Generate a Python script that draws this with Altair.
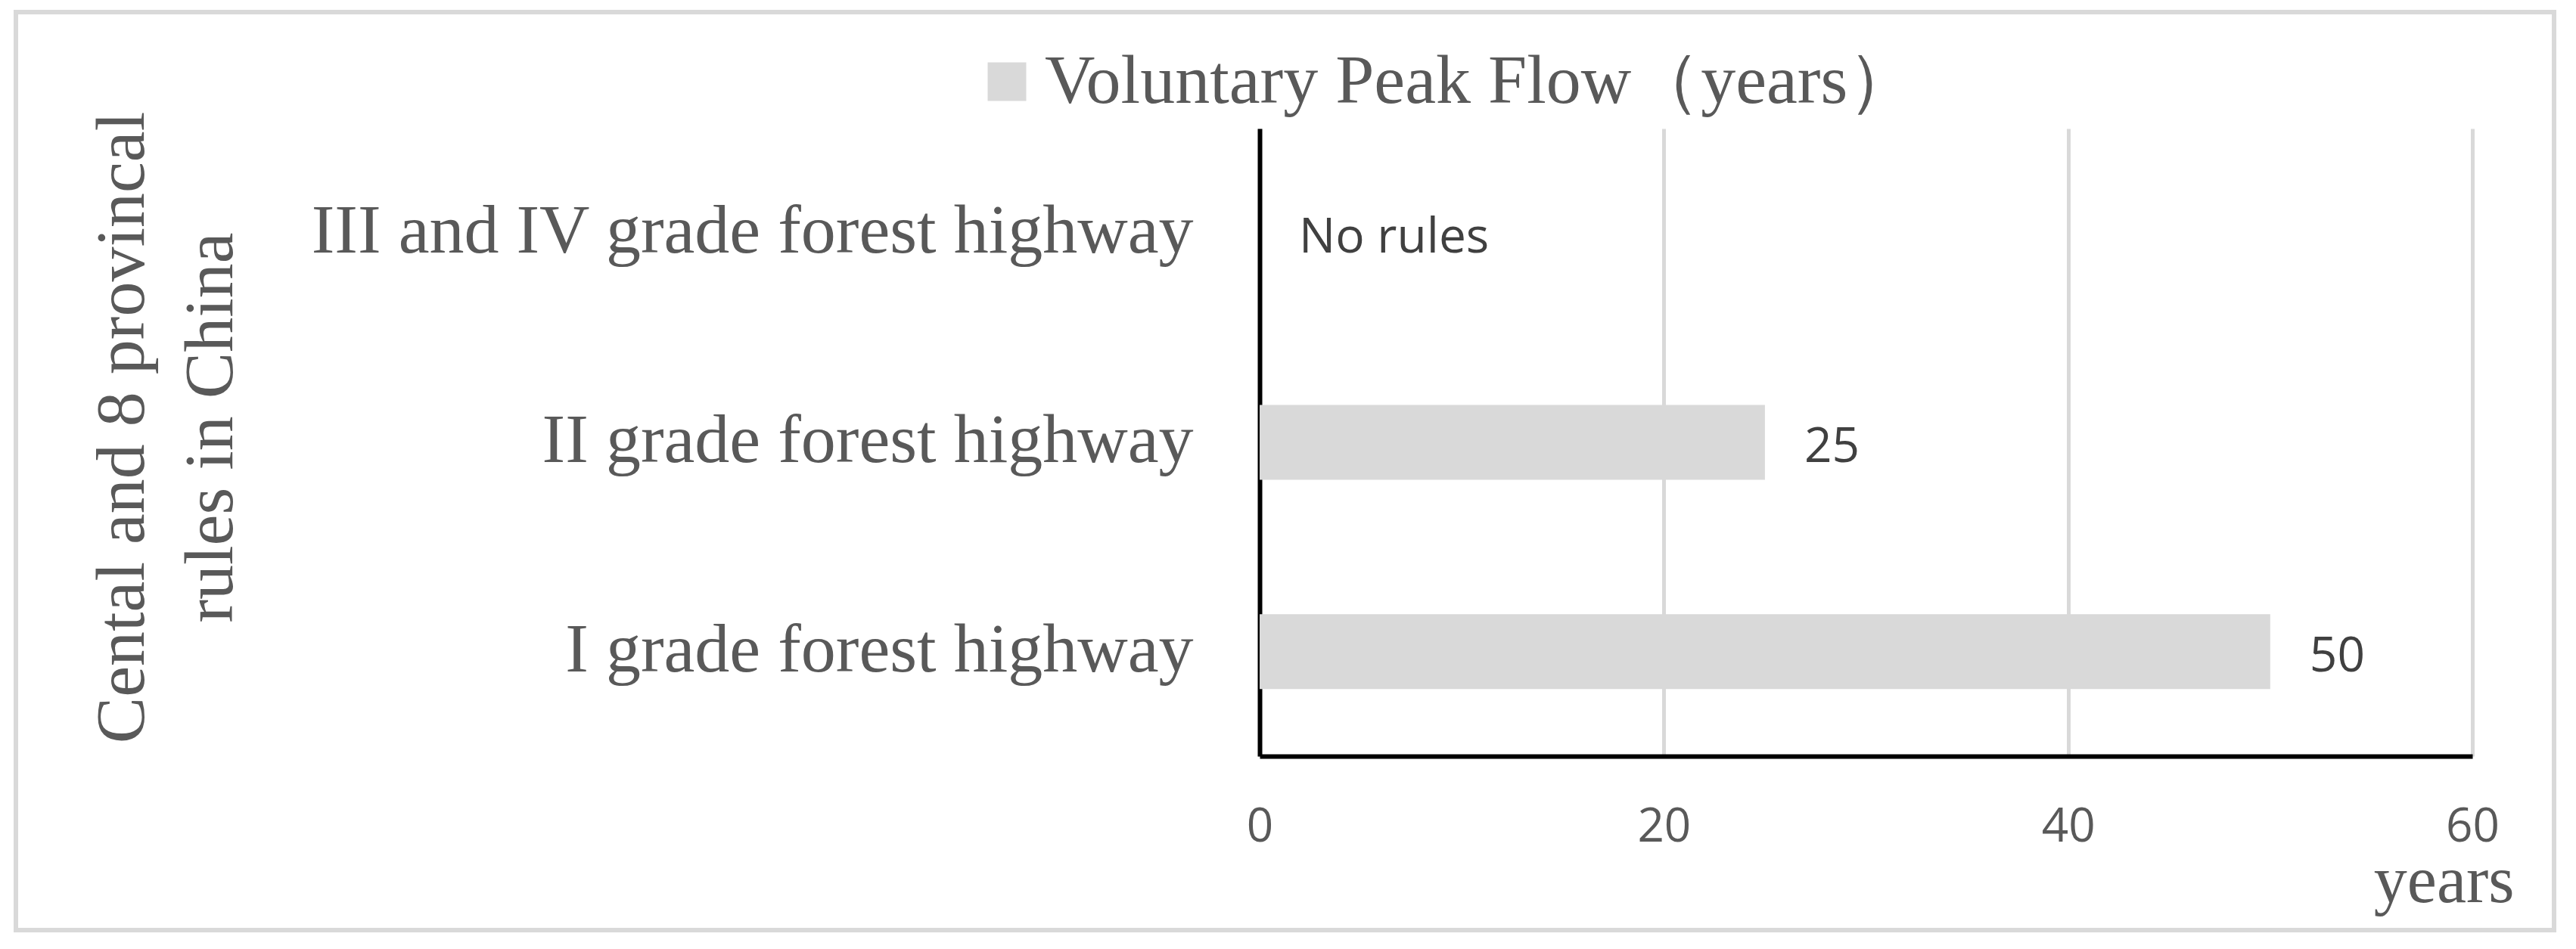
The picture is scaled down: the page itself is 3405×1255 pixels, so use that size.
import altair as alt
import pandas as pd

categories = ["III and IV grade forest highway", "II grade forest highway", "I grade forest highway"]
values = [None, 25, 50]
value_labels = ["No rules", "25", "50"]
series_name = "Voluntary Peak Flow（years）"
x_ticks = [0, 20, 40, 60]
y_title = ["Cental and 8 provincal", "rules in China"]
x_title = "years"

df = pd.DataFrame({"category": categories, "value": values,
                   "label": value_labels, "series": series_name})
df["label_x"] = df["value"].fillna(0)

SERIF = "Liberation Serif"
SANS = "Open Sans"
GREY_TXT = "#595959"
BAR = "#d9d9d9"

x_axis = alt.Axis(values=x_ticks, title=x_title, grid=True, gridColor=BAR, gridWidth=5,
                  domainColor="#000000", domainWidth=6, ticks=False, tickSize=0,
                  labelFont=SANS, labelFontSize=62, labelColor=GREY_TXT, labelPadding=112,
                  labelBaseline="alphabetic", labelFlush=False,
                  titleFont=SERIF, titleFontSize=88, titleColor=GREY_TXT, titleFontWeight="normal",
                  titleAnchor="end", titleAlign="right", titleX=1658, titleY=192,
                  titleBaseline="alphabetic")
x_scale = alt.Scale(domain=[0, 60], nice=False)

y_axis = alt.Axis(title=y_title, grid=False, domainColor="#000000", domainWidth=6,
                  ticks=False, tickSize=0, labelFont=SERIF, labelFontSize=92,
                  labelColor=GREY_TXT, labelPadding=88, labelBaseline="alphabetic",
                  labelOffset=26, labelLimit=3000,
                  titleFont=SERIF, titleFontSize=92, titleColor=GREY_TXT, titleFontWeight="normal",
                  titleAngle=-90, titleX=-1476, titleY=395, titleAlign="center",
                  titleBaseline="alphabetic", titleLineHeight=117)
y_scale = alt.Scale(paddingInner=0.642, paddingOuter=0.321)

bars = alt.Chart(df).mark_bar().encode(
    x=alt.X("value:Q", scale=x_scale, axis=x_axis),
    y=alt.Y("category:N", sort=categories, scale=y_scale, axis=y_axis),
    color=alt.Color("series:N", scale=alt.Scale(range=[BAR]),
                    legend=alt.Legend(orient="none", legendX=-380, legendY=-108, title=None,
                                      symbolType="square", symbolSize=2601,
                                      symbolStrokeWidth=0, symbolFillColor=BAR,
                                      labelFont=SERIF, labelFontSize=92, labelColor=GREY_TXT,
                                      labelOffset=4, padding=0, labelLimit=3000)),
)

labels = alt.Chart(df).mark_text(align="left", baseline="alphabetic", dx=52, dy=26, font=SANS,
                                 fontSize=64, color="#404040").encode(
    x=alt.X("label_x:Q", scale=x_scale, axis=x_axis),
    y=alt.Y("category:N", sort=categories, scale=y_scale, axis=y_axis),
    text="label:N",
)

frame = alt.Chart(alt.Data(values=[{"k": 1}])).mark_rect(
    fill=None, stroke=BAR, strokeWidth=6, clip=False
).encode(x=alt.value(-1644), x2=alt.value(1711), y=alt.value(-154), y2=alt.value(1060))

chart = alt.layer(bars, labels, frame).properties(
    width=1603, height=830,
    padding={"left": 1657, "top": 162, "right": 129, "bottom": 247},
    autosize=alt.AutoSizeParams(type="none"),
).configure_view(stroke=None)

chart.save("out.html", embed_options={"renderer": "svg", "actions": False})
